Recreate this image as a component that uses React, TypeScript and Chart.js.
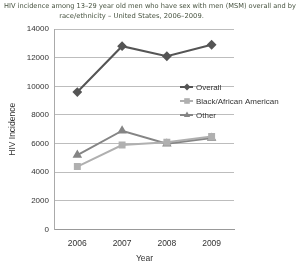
import React, { useEffect, useRef } from "react";
import { Chart, registerables } from "chart.js";

Chart.register(...registerables);

const titleLines = [
  "HIV incidence among 13–29 year old men who have sex with men (MSM) overall and by",
  "race/ethnicity – United States, 2006–2009.",
];
const years = ["2006", "2007", "2008", "2009"];
const overall = [9600, 12800, 12100, 12900];
const blackAfricanAmerican = [4400, 5900, 6100, 6500];
const other = [5200, 6900, 6000, 6400];
const seriesNames = ["Overall", "Black/African American", "Other"];
const yTicks = [0, 2000, 4000, 6000, 8000, 10000, 12000, 14000];

const FONT = "'Liberation Sans', Arial, sans-serif";

function drawMarker(ctx: any, style: string, x: number, y: number, r: number) {
  ctx.beginPath();
  if (style === "rectRot") {
    ctx.moveTo(x, y - r);
    ctx.lineTo(x + r, y);
    ctx.lineTo(x, y + r);
    ctx.lineTo(x - r, y);
  } else if (style === "rect") {
    ctx.rect(x - r * 0.8, y - r * 0.8, r * 1.6, r * 1.6);
  } else {
    ctx.moveTo(x, y - r);
    ctx.lineTo(x + r * 0.9, y + r * 0.6);
    ctx.lineTo(x - r * 0.9, y + r * 0.6);
  }
  ctx.closePath();
  ctx.fill();
}

const titlePlugin = {
  id: "customTitle",
  afterDraw(chart: any) {
    const ctx = chart.ctx;
    ctx.save();
    ctx.font = "10px 'DejaVu Sans', sans-serif";
    const w2 = ctx.measureText(titleLines[1]).width;
    const size = (10 * 145) / w2;
    ctx.fillStyle = "#46523f";
    ctx.font = `${size}px 'DejaVu Sans', sans-serif`;
    ctx.textAlign = "center";
    ctx.textBaseline = "middle";
    ctx.fillText(titleLines[0], 150, 6.5, 292);
    ctx.fillText(titleLines[1], 131.5, 16, 292);
    ctx.restore();
  },
};

const legendPlugin = {
  id: "customLegend",
  afterDatasetsDraw(chart: any) {
    const ctx = chart.ctx;
    const area = chart.chartArea;
    const x0 = area.right - 54;
    const y0 = area.top + 58;
    ctx.save();
    chart.data.datasets.forEach((ds: any, i: number) => {
      const y = y0 + i * 14;
      ctx.strokeStyle = ds.borderColor;
      ctx.lineWidth = 2;
      ctx.beginPath();
      ctx.moveTo(x0, y);
      ctx.lineTo(x0 + 13, y);
      ctx.stroke();
      ctx.fillStyle = ds.backgroundColor;
      drawMarker(ctx, ds.pointStyle, x0 + 7, y, ds.pointRadius);
      ctx.fillStyle = "#333";
      ctx.font = `8px ${FONT}`;
      ctx.textBaseline = "middle";
      ctx.textAlign = "left";
      ctx.fillText(ds.label, x0 + 16, y + 0.5);
    });
    ctx.restore();
  },
};

export default function App() {
  const ref = useRef<HTMLCanvasElement>(null);
  useEffect(() => {
    if (!ref.current) return;
    const chart = new Chart(ref.current, {
      type: "line",
      data: {
        labels: years,
        datasets: [
          {
            label: seriesNames[0],
            data: overall,
            borderColor: "#555555",
            backgroundColor: "#555555",
            pointStyle: "rectRot",
            pointRadius: 3.5,
            borderWidth: 2,
          },
          {
            label: seriesNames[1],
            data: blackAfricanAmerican,
            borderColor: "#b0b0b0",
            backgroundColor: "#b0b0b0",
            pointStyle: "rect",
            pointRadius: 3.5,
            borderWidth: 2,
          },
          {
            label: seriesNames[2],
            data: other,
            borderColor: "#858585",
            backgroundColor: "#858585",
            pointStyle: "triangle",
            pointRadius: 3.5,
            borderWidth: 2,
          },
        ] as any,
      },
      options: {
        animation: false,
        responsive: false,
        layout: { padding: { left: 8, right: 66, top: 29, bottom: 2 } },
        plugins: {
          legend: { display: false },
          tooltip: { enabled: false },
          title: { display: false },
        },
        scales: {
          x: {
            offset: true,
            grid: { display: false, drawTicks: false },
            border: { display: true, color: "#999999" },
            ticks: { color: "#333", font: { family: FONT, size: 8.5 }, padding: 9, maxRotation: 0 },
            title: { display: true, text: "Year", color: "#333", font: { family: FONT, size: 8.5 }, padding: { top: -4, bottom: 0 } },
          },
          y: {
            min: 0,
            max: 14000,
            afterBuildTicks: (scale: any) => {
              scale.ticks = yTicks.map((v) => ({ value: v }));
            },
            grid: { color: "#bdbdbd", drawTicks: false, lineWidth: 1 },
            border: { display: true, color: "#aaaaaa" },
            ticks: {
              color: "#333",
              font: { family: FONT, size: 8 },
              padding: 6,
              callback: (v: any) => String(v),
            },
            title: { display: true, text: "HIV Incidence", color: "#333", font: { family: FONT, size: 8.5 }, padding: { top: 0, bottom: 2.5 } },
          },
        },
      },
      plugins: [legendPlugin, titlePlugin],
    });
    return () => chart.destroy();
  }, []);
  return (
    <div style={{ position: "fixed", left: 0, top: 0, width: 300, height: 266, background: "#fff" }}>
      <canvas ref={ref} width={300} height={266} style={{ width: 300, height: 266 }} />
    </div>
  );
}
